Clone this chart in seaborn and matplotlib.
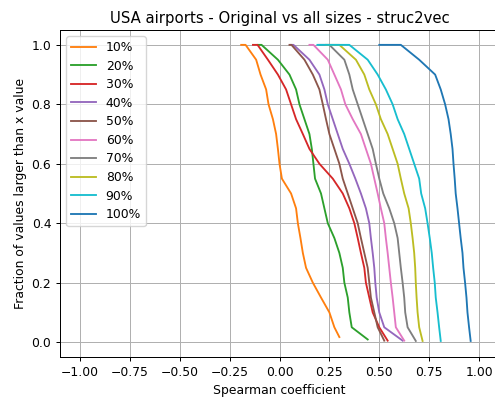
import numpy as np
import pandas as pd
import matplotlib
matplotlib.use("Agg")
import matplotlib.pyplot as plt
import seaborn as sns

# fraction levels (first two both 1.0: short flat start; last is the curve end)
fractions = [1.0, 1.0, 0.95, 0.90, 0.85, 0.80, 0.75, 0.70, 0.65, 0.60, 0.55,
             0.50, 0.45, 0.40, 0.35, 0.30, 0.25, 0.20, 0.15, 0.10, 0.05]

labels = ["10%", "20%", "30%", "40%", "50%", "60%", "70%", "80%", "90%", "100%"]

s10 = [-0.192, -0.17, -0.117, -0.095, -0.067, -0.055, -0.033, -0.017, -0.008, 0.0, 0.012,
       0.058, 0.083, 0.092, 0.105, 0.117, 0.133, 0.167, 0.208, 0.25, 0.275, 0.30]
s20 = [-0.108, -0.09, -0.008, 0.05, 0.083, 0.10, 0.125, 0.15, 0.162, 0.17, 0.178,
       0.208, 0.225, 0.242, 0.275, 0.30, 0.317, 0.325, 0.342, 0.35, 0.362, 0.442]
s30 = [-0.133, -0.11, -0.058, -0.008, 0.033, 0.058, 0.083, 0.117, 0.15, 0.20, 0.267,
       0.317, 0.35, 0.375, 0.392, 0.408, 0.425, 0.433, 0.45, 0.467, 0.50, 0.542]
s40 = [0.058, 0.07, 0.15, 0.20, 0.225, 0.242, 0.267, 0.292, 0.317, 0.35, 0.38,
       0.408, 0.433, 0.45, 0.458, 0.467, 0.475, 0.48, 0.487, 0.50, 0.525, 0.617]
s50 = [0.05, 0.06, 0.125, 0.167, 0.20, 0.217, 0.233, 0.25, 0.275, 0.30, 0.317,
       0.342, 0.367, 0.392, 0.408, 0.425, 0.442, 0.45, 0.458, 0.475, 0.492, 0.525]
s60 = [0.15, 0.17, 0.242, 0.275, 0.308, 0.33, 0.367, 0.408, 0.433, 0.458, 0.475,
       0.492, 0.508, 0.525, 0.533, 0.542, 0.55, 0.558, 0.567, 0.575, 0.583, 0.625]
s70 = [0.20, 0.25, 0.325, 0.35, 0.367, 0.392, 0.417, 0.442, 0.467, 0.483, 0.50,
       0.52, 0.55, 0.575, 0.592, 0.60, 0.608, 0.617, 0.625, 0.63, 0.642, 0.683]
s80 = [0.233, 0.30, 0.383, 0.425, 0.45, 0.483, 0.508, 0.542, 0.567, 0.592, 0.608,
       0.625, 0.647, 0.658, 0.667, 0.675, 0.68, 0.683, 0.687, 0.692, 0.70, 0.717]
s90 = [0.19, 0.35, 0.442, 0.492, 0.533, 0.567, 0.592, 0.625, 0.65, 0.675, 0.70,
       0.71, 0.73, 0.742, 0.753, 0.763, 0.77, 0.778, 0.783, 0.792, 0.80, 0.808]
s100 = [0.50, 0.608, 0.70, 0.78, 0.808, 0.83, 0.847, 0.858, 0.867, 0.872, 0.878,
        0.883, 0.892, 0.90, 0.908, 0.917, 0.922, 0.93, 0.937, 0.942, 0.95, 0.958]

series = [s10, s20, s30, s40, s50, s60, s70, s80, s90, s100]
end_fraction = [0.017, 0.009, 0.005, 0.005, 0.005, 0.005, 0.004, 0.004, 0.004, 0.004]

tab = sns.color_palette("tab10")
colors = [tab[1], tab[2], tab[3], tab[4], tab[5], tab[6], tab[7], tab[8], tab[9], tab[0]]

rows = []
for lab, vals, ef in zip(labels, series, end_fraction):
    ys = list(fractions) + [ef]
    for i, (x, y) in enumerate(zip(vals, ys)):
        rows.append({"size": lab, "x": x, "y": y, "order": i})
df = pd.DataFrame(rows)

k = 0.89
plt.rcParams['font.family'] = ['DejaVu Sans']
plt.rcParams.update({
    "font.size": 10 * k,
    "axes.titlesize": 12 * k,
    "axes.labelsize": 10 * k,
    "xtick.labelsize": 10 * k,
    "ytick.labelsize": 10 * k,
    "legend.fontsize": 10 * k,
    "xtick.major.size": 3.5 * k,
    "ytick.major.size": 3.5 * k,
    "xtick.major.width": 0.8 * k,
    "ytick.major.width": 0.8 * k,
    "axes.linewidth": 0.8 * k,
    "xtick.major.pad": 3.5 * k,
    "ytick.major.pad": 3.5 * k,
    "axes.titlepad": 6.0 * k,
    "axes.labelpad": 4.0 * k,
})

fig = plt.figure(figsize=(4.95, 3.99), dpi=100)
ax = fig.add_axes([60 / 495, (399 - 357) / 399, 439 / 495, 327 / 399])

sns.lineplot(data=df, x="x", y="y", hue="size", hue_order=labels,
             palette=dict(zip(labels, colors)), sort=False, estimator=None,
             units="size", linewidth=1.5 * k, ax=ax)

ax.set_xlim(-1.1, 1.1)
ax.set_ylim(-0.05, 1.05)
ticks = np.arange(-1.0, 1.01, 0.25)
ax.set_xticks(ticks)
ax.set_xticklabels([f"{t:.2f}".replace("-", "\u2212") for t in ticks])
ax.grid(True, color="#b0b0b0", linewidth=0.8 * k)
ax.set_axisbelow(True)
ax.spines["right"].set_visible(False)
ax.set_xlabel("Spearman coefficient")
ax.set_ylabel("Fraction of values larger than x value")
ax.set_title("USA airports - Original vs all sizes - struc2vec")
leg = ax.legend(loc="upper left", title=None, labelspacing=0.45)
for line in leg.get_lines():
    line.set_linewidth(1.5 * k)

fig.savefig("out.png", dpi=100)
